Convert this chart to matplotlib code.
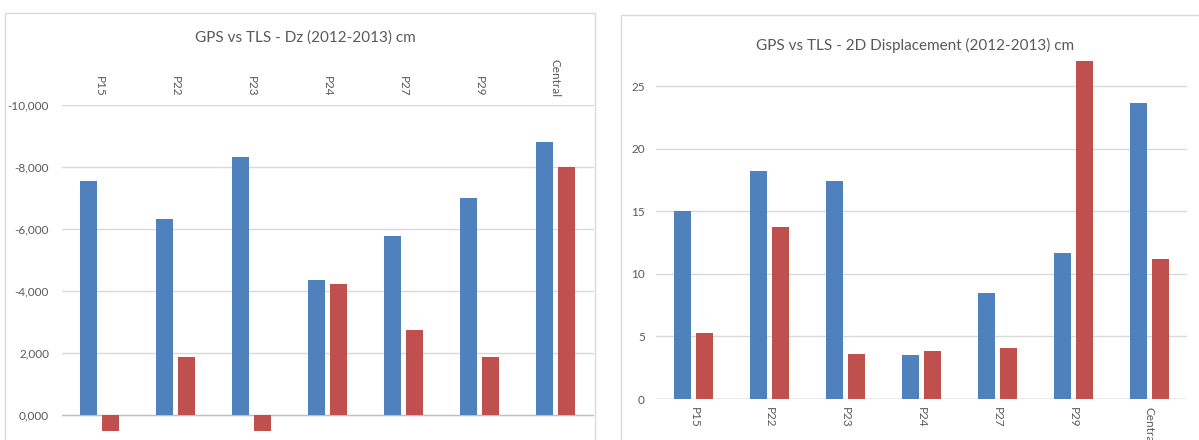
import matplotlib.pyplot as plt
from matplotlib.patches import Rectangle
import numpy as np

# Survey points and the two measurement series (GPS in blue, TLS in red)
points = ["P15", "P22", "P23", "P24", "P27", "P29", "Central"]

dz_gps = [-7.55, -6.33, -8.31, -4.35, -5.78, -7.00, -8.82]
dz_tls = [0.52, -1.87, 0.52, -4.24, -2.74, -1.87, -8.00]
dz_ticks = [0, -2, -4, -6, -8, -10]
dz_ticklabels = ["0,000", "2,000", "-4,000", "-6,000", "-8,000", "-10,000"]

d2_gps = [15.0, 18.25, 17.45, 3.5, 8.45, 11.7, 23.65]
d2_tls = [5.3, 13.7, 3.6, 3.8, 4.1, 27.0, 11.15]
d2_ticks = [0, 5, 10, 15, 20, 25]

BLUE = "#4F81BD"
RED = "#C0504D"
GRID = "#D9D9D9"
TEXT = "#595959"

plt.rcParams["font.family"] = ["Lato", "DejaVu Sans"]

W, H = 1199, 440
fig = plt.figure(figsize=(W / 100, H / 100), dpi=100)


def px_axes(x0, x1, y_top, y_bot):
    # axes placed by pixel edges, y measured from the top of the figure
    return fig.add_axes([x0 / W, 1 - y_bot / H, (x1 - x0) / W, (y_bot - y_top) / H])


def panel(x0, y0, x1, y1):
    fig.patches.append(Rectangle((x0 / W, 1 - y1 / H), (x1 - x0) / W, (y1 - y0) / H,
                                 transform=fig.transFigure, fill=False,
                                 edgecolor=GRID, lw=1.0, zorder=0))


def style(ax):
    for s in ax.spines.values():
        s.set_visible(False)
    ax.set_xlim(-0.5, len(points) - 0.5)
    ax.yaxis.grid(True, color=GRID, lw=1.0)
    ax.set_axisbelow(True)
    ax.axhline(0, color="#BFBFBF", lw=1.0, zorder=1)
    ax.tick_params(length=0, colors=TEXT, labelsize=8.5)


x = np.arange(len(points))
off, bw = 0.145, 0.224

# Left chart: vertical displacement on an inverted axis
panel(5, 13, 595, 460)
ax1 = px_axes(61.5, 593.5, 105, 440)
style(ax1)
ax1.bar(x - off, dz_gps, bw, color=BLUE, zorder=2)
ax1.bar(x + off, dz_tls, bw, color=RED, zorder=2)
ax1.set_ylim(0.806, -10)
ax1.set_yticks(dz_ticks)
ax1.set_yticklabels(dz_ticklabels)
ax1.tick_params(axis="y", pad=9)
ax1.xaxis.tick_top()
ax1.set_xticks(x)
ax1.set_xticklabels(points, rotation=270, va="bottom", ha="center")
ax1.tick_params(axis="x", pad=6)
fig.text(305 / W, 1 - 38 / H, "GPS vs TLS - Dz (2012-2013) cm", ha="center",
         va="center", fontsize=11, color=TEXT)

# Right chart: horizontal displacement
panel(621, 15, 1210, 460)
ax2 = px_axes(656, 1187, 54.7, 399)
style(ax2)
ax2.bar(x - off, d2_gps, bw, color=BLUE, zorder=2)
ax2.bar(x + off, d2_tls, bw, color=RED, zorder=2)
ax2.set_ylim(0, 27.5)
ax2.set_yticks(d2_ticks)
ax2.tick_params(axis="y", pad=8)
ax2.set_xticks(x)
ax2.set_xticklabels(points, rotation=270, va="top", ha="center")
ax2.tick_params(axis="x", pad=6)
fig.text(915 / W, 1 - 45 / H, "GPS vs TLS - 2D Displacement (2012-2013) cm",
         ha="center", va="center", fontsize=11, color=TEXT)

fig.savefig("out.png", dpi=100)
